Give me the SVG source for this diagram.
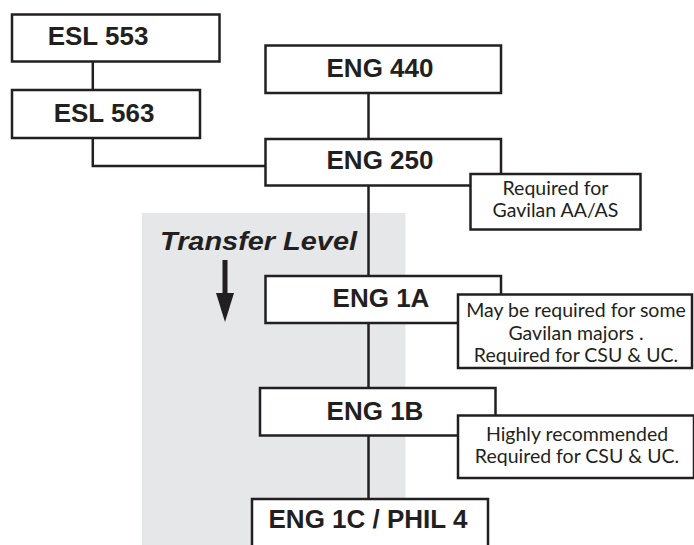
<svg xmlns="http://www.w3.org/2000/svg" width="694" height="545" viewBox="0 0 694 545">
<style>
.box{fill:#fff;stroke:#231f20;stroke-width:2.5}
.note{fill:#fff;stroke:#231f20;stroke-width:2.5}
.lbl{font-family:"Liberation Sans",Arial,sans-serif;font-weight:bold;font-size:26px;fill:#231f20;text-anchor:middle}
.nt{font-family:Lato,"Open Sans",sans-serif;font-size:19.5px;fill:#231f20;text-anchor:middle}
.conn{fill:none;stroke:#231f20;stroke-width:2.5}
</style>
<rect x="142" y="213" width="263.5" height="332" fill="#e6e7e8"/>
<g id="transfer">
<text x="160" y="250" font-family="'Liberation Sans',Arial,sans-serif" font-weight="bold" font-style="italic" font-size="26" fill="#231f20" textLength="197" lengthAdjust="spacingAndGlyphs">Transfer Level</text>
<line x1="225" y1="260" x2="225" y2="295" stroke="#231f20" stroke-width="5"/>
<polygon points="216,293 234,293 225,322" fill="#231f20"/>
</g>
<g id="connectors">
<line class="conn" x1="92.8" y1="61.5" x2="92.8" y2="90"/>
<polyline class="conn" points="92.8,138 92.8,166 265.5,166"/>
<line class="conn" x1="368.5" y1="93" x2="368.5" y2="139"/>
<line class="conn" x1="368.5" y1="185.5" x2="368.5" y2="276"/>
<line class="conn" x1="368.5" y1="323" x2="368.5" y2="388"/>
<line class="conn" x1="368.5" y1="435.5" x2="368.5" y2="499"/>
</g>
<g id="esl553"><rect class="box" x="12" y="14.5" width="207.5" height="47"/><text class="lbl" x="98" y="45">ESL 553</text></g>
<g id="esl563"><rect class="box" x="12" y="90" width="188" height="48"/><text class="lbl" x="104" y="121.7">ESL 563</text></g>
<g id="eng440"><rect class="box" x="265.5" y="45.5" width="235.5" height="47.5"/><text class="lbl" x="380" y="76.7">ENG 440</text></g>
<g id="eng250"><rect class="box" x="265.5" y="139" width="235.5" height="46.5"/><text class="lbl" x="380" y="169">ENG 250</text></g>
<g id="note250"><rect class="note" x="470.5" y="174" width="170" height="55.5"/><text class="nt" x="555.5" y="195">Required for</text><text class="nt" x="555.5" y="217.3">Gavilan AA/AS</text></g>
<g id="eng1a"><rect class="box" x="265.5" y="276" width="235.5" height="47"/><text class="lbl" x="381" y="307">ENG 1A</text></g>
<g id="note1a"><rect class="note" x="458" y="294.5" width="234" height="73.5"/><text class="nt" x="576" y="317">May be required for some</text><text class="nt" x="576" y="339.5">Gavilan majors .</text><text class="nt" x="576" y="362">Required for CSU &amp; UC.</text></g>
<g id="eng1b"><rect class="box" x="260" y="388" width="235.5" height="47.5"/><text class="lbl" x="375" y="420">ENG 1B</text></g>
<g id="note1b"><rect class="note" x="458" y="415.5" width="236" height="62.5"/><text class="nt" x="577" y="440.5">Highly recommended</text><text class="nt" x="577" y="462.5">Required for CSU &amp; UC.</text></g>
<g id="eng1c"><rect class="box" x="252" y="499" width="236" height="60"/><text class="lbl" x="368" y="527.7">ENG 1C / PHIL 4</text></g>
</svg>
